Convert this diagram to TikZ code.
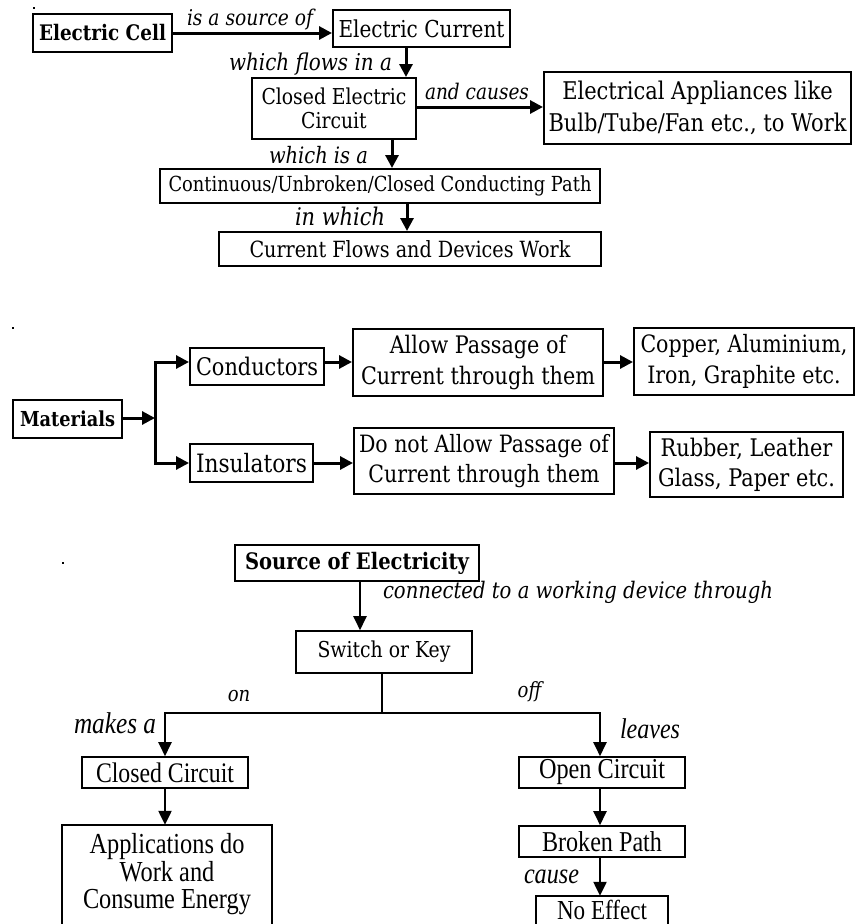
\documentclass[tikz,border=0pt]{standalone}
\usepackage{fontspec}
\setmainfont{DejaVu Serif}[FakeStretch=0.86]
\newfontfamily\condf[FakeStretch=0.84]{Liberation Serif}
\usetikzlibrary{arrows.meta}
\makeatletter
\newcommand\fitfont[4]{#1\fontsize{10pt}{12pt}\selectfont
 \setbox\z@\hbox{#3}\dimen@=\wd\z@
 \pgfmathsetmacro\fit@s{10*#2/\strip@pt\dimen@}%
 \pgfmathsetmacro\fit@b{#4*\fit@s}%
 \fontsize{\fit@s pt}{\fit@b pt}\selectfont}
\makeatother
\tikzset{
 boxa/.style={draw, line width=2pt, rectangle, inner sep=0pt, align=center},
 boxc/.style={draw, line width=1.6pt, rectangle, inner sep=0pt, align=center},
 openc/.style={line width=1.6pt},
 arra/.style={line width=3pt, -{Triangle[length=13pt,width=13pt]}},
 arrc/.style={line width=2.3pt, -{Triangle[length=14pt,width=13pt]}},
 linec/.style={line width=2.3pt},
 lab/.style={inner sep=0pt, anchor=base},
}
\begin{document}
\begin{tikzpicture}[x=1pt,y=-1pt]
\useasboundingbox (0,0) rectangle (856,924);
\clip (0,0) rectangle (856,924);
% stray dots
\fill (33,7) rectangle (35,9);
\fill (12,327) rectangle (14,329);
\fill (62,562) rectangle (64,564);
% ---------- section 1
\node[boxa, minimum width=139pt, minimum height=38pt, font={\fitfont{\bfseries}{127}{Electric Cell}{1.2}}] (ecell) at (102.5,33) {Electric Cell};
\node[boxa, minimum width=177pt, minimum height=37pt, font={\fitfont{}{166}{Electric Current}{1.2}}] (ecur) at (421.5,28.5) {Electric Current};
\node[boxa, minimum width=164pt, minimum height=61pt, font={\fitfont{}{145}{Closed Electric}{1.1}}] (closed) at (334,108.5) {Closed Electric\\Circuit};
\node[boxa, minimum width=307pt, minimum height=72pt, font={\fitfont{}{298}{Bulb/Tube/Fan etc., to Work}{1.3}}] (appl) at (697.5,108) {Electrical Appliances like\\Bulb/Tube/Fan etc., to Work};
\node[boxa, minimum width=440pt, minimum height=34pt, font={\fitfont{}{423}{Continuous/Unbroken/Closed Conducting Path}{1.2}}] (cont) at (380,186) {Continuous/Unbroken/Closed Conducting Path};
\node[boxa, minimum width=382pt, minimum height=34pt, font={\fitfont{}{321}{Current Flows and Devices Work}{1.2}}] (flows) at (410,249) {Current Flows and Devices Work};

\coordinate (xa) at (406,0);
\coordinate (xb) at (392,0);
\coordinate (xc) at (407,0);
\coordinate (ya) at (0,107);
\draw[arra] (ecell.east) -- (ecell.east -| ecur.west);
\draw[arra] (ecur.south -| xa) -- (closed.north -| xa);
\draw[arra] (closed.east |- ya) -- (appl.west |- ya);
\draw[arra] (closed.south -| xb) -- (cont.north -| xb);
\draw[arra] (cont.south -| xc) -- (flows.north -| xc);

\node[lab, font={\fitfont{\itshape}{126}{is a source of}{1.2}}] (l1) at (250,25) {is a source of};
\node[lab, font={\fitfont{\itshape}{163}{which flows in a}{1.2}}] (l2) at (310.5,70) {which flows in a};
\node[lab, font={\fitfont{\itshape}{104}{and causes}{1.2}}] (l3) at (477,99) {and causes};
\node[lab, font={\fitfont{\itshape}{99}{which is a}{1.2}}] (l4) at (318.5,163) {which is a};
\node[lab, font={\fitfont{\itshape}{90}{in which}{1.2}}] (l5) at (340,225) {in which};

% ---------- section 2
\node[boxa, minimum width=109pt, minimum height=38pt, font={\fitfont{\bfseries}{95}{Materials}{1.2}}] (mat) at (67.5,419) {Materials};
\node[boxa, minimum width=134pt, minimum height=37pt, font={\fitfont{}{122}{Conductors}{1.2}}] (cond) at (257,366.5) {Conductors};
\node[boxa, minimum width=123pt, minimum height=38pt, font={\fitfont{}{111}{Insulators}{1.2}}] (ins) at (251.5,463) {Insulators};
\node[boxa, minimum width=250pt, minimum height=67pt, font={\fitfont{}{234}{Current through them}{1.25}}] (allow) at (478,362.5) {Allow Passage of\\Current through them};
\node[boxa, minimum width=220pt, minimum height=67pt, font={\fitfont{}{207}{Copper, Aluminium,}{1.3}}] (copper) at (744,361.5) {Copper, Aluminium,\\Iron, Graphite etc.};
\node[boxa, minimum width=260pt, minimum height=66pt, font={\fitfont{}{250}{Do not Allow Passage of}{1.25}}] (donot) at (484,461) {Do not Allow Passage of\\Current through them};
\node[boxa, minimum width=193pt, minimum height=65pt, font={\fitfont{}{177}{Glass, Paper etc.}{1.25}}] (rubber) at (746.5,464.5) {Rubber, Leather\\Glass, Paper etc.};

\coordinate (split) at (155,418);
\coordinate (splitT) at (155,362);
\coordinate (splitB) at (155,463);
\draw[arra] (mat.east |- split) -- (split);
\draw[arra] (splitB) -- (splitT) -- (splitT -| cond.west);
\draw[arra] (splitT) -- (splitB) -- (splitB -| ins.west);
\draw[arra] (cond.east |- splitT) -- (allow.west |- splitT);
\draw[arra] (allow.east |- splitT) -- (copper.west |- splitT);
\draw[arra] (ins.east |- splitB) -- (donot.west |- splitB);
\draw[arra] (donot.east |- splitB) -- (rubber.west |- splitB);

% ---------- section 3
\node[boxc, minimum width=244pt, minimum height=36pt, font={\fitfont{\bfseries}{224}{Source of Electricity}{1.2}}] (src) at (357,563) {Source of Electricity};
\node[boxc, minimum width=176pt, minimum height=42pt, font={\fitfont{}{133}{Switch or Key}{1.2}}] (sw) at (384,652) {Switch or Key};
\node[boxc, minimum width=166pt, minimum height=31pt, font={\fitfont{\condf}{138}{Closed Circuit}{1.2}}] (cc) at (165,772.5) {Closed Circuit};
\node[inner sep=0pt, align=center, minimum width=210pt, minimum height=99pt, font={\fitfont{\condf}{168}{Consume Energy}{1.0}\baselineskip=27.5pt}] (app) at (167,874.5) {Applications do\\Work and\\Consume Energy};
\node[boxc, minimum width=166pt, minimum height=31pt, font={\fitfont{\condf}{126}{Open Circuit}{1.2}}] (oc) at (602,772.5) {Open Circuit};
\node[boxc, minimum width=166pt, minimum height=31pt, font={\fitfont{\condf}{120}{Broken Path}{1.2}}] (bp) at (602,841.5) {Broken Path};
\node[inner sep=0pt, minimum width=132pt, minimum height=28pt, font={\fitfont{\condf}{90}{No Effect}{1.2}}] (ne) at (602,910) {No Effect};
\draw[openc] ([yshift=-3pt]app.south west) -- (app.north west) -- (app.north east) -- ([yshift=-3pt]app.south east);
\draw[openc] ([yshift=-3pt]ne.south west) -- (ne.north west) -- (ne.north east) -- ([yshift=-3pt]ne.south east);

\coordinate (xs) at (360,0);
\coordinate (bl) at (165,713);
\coordinate (br) at (600,713);
\coordinate (bm) at (382,713);
\draw[arrc] (src.south -| xs) -- (sw.north -| xs);
\draw[linec] (sw.south -| bm) -- (bm);
\draw[arrc] (bm) -- (bl) -- (bl |- cc.north);
\draw[arrc] (bm) -- (br) -- (br |- oc.north);
\draw[arrc] (cc.south) -- (cc.south |- app.north);
\draw[arrc] (oc.south -| br) -- (bp.north -| br);
\draw[arrc] (bp.south -| br) -- (ne.north -| br);

\node[lab, font={\fitfont{\itshape}{390}{connected to a working device through}{1.2}}] (l6) at (578,598) {connected to a working device through};
\node[lab, font={\itshape\fontsize{21pt}{25pt}\selectfont}] (l7) at (239,701) {on};
\node[lab, font={\itshape\fontsize{21pt}{25pt}\selectfont}] (l8) at (529.5,697) {off};
\node[lab, font={\fitfont{\condf\itshape}{82}{makes a}{1.2}}] (l9) at (115,733) {makes a};
\node[lab, font={\fitfont{\condf\itshape}{60}{leaves}{1.2}}] (l10) at (650,738) {leaves};
\node[lab, font={\fitfont{\condf\itshape}{55}{cause}{1.2}}] (l11) at (551.5,883) {cause};
\end{tikzpicture}
\end{document}
